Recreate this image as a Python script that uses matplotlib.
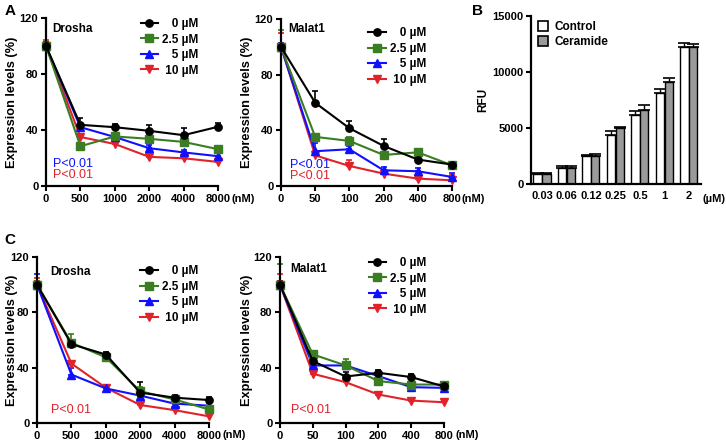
import numpy as np
import matplotlib
matplotlib.use("Agg")
import matplotlib.pyplot as plt
from matplotlib.patches import Patch

plt.rcParams['font.family'] = ['Liberation Sans', 'DejaVu Sans']
plt.rcParams['font.weight'] = 'bold'
plt.rcParams['axes.labelweight'] = 'bold'

# ------------------------------------------------------------
# Data
# ------------------------------------------------------------
doses = ['0 µM', '2.5 µM', '5 µM', '10 µM']
# padded with figure/punctuation spaces so legend text looks right-aligned
dose_labels = ['\u2007\u20080 µM', '2.5 µM', '\u2007\u20085 µM', '\u200810 µM']

drosha_x = ['0', '500', '1000', '2000', '4000', '8000']
malat_x = ['0', '50', '100', '200', '400', '800']

# panel A, Drosha
a_drosha = [
    [100, 43.7, 42, 39.4, 36.3, 42.3],
    [100, 28.4, 35.4, 33.7, 31.5, 26.3],
    [100, 42, 35, 27, 24, 21.3],
    [100, 35, 30, 20.8, 19.8, 17.2],
]
a_drosha_err = [
    [3, 5, 2, 4, 5, 3],
    [2, 2, 2, 3, 3, 2],
    [2, 2, 2, 2, 2, 2],
    [4, 2, 2, 2, 2, 2],
]
# panel A, Malat1
a_malat = [
    [100, 59.8, 41.5, 28.8, 19, 15.4],
    [100, 35.3, 32.4, 22.3, 24.2, 14.9],
    [100, 25, 26.4, 11.3, 10.6, 6.5],
    [100, 22, 14.4, 8.9, 5.3, 4.1],
]
a_malat_err = [
    [3, 8.5, 5, 5, 2, 2],
    [12, 2, 3, 2, 2, 2],
    [3, 6, 2, 2, 2, 3],
    [10, 3, 4, 2, 3, 4],
]
# panel C, Drosha
c_drosha = [
    [100, 57, 49.5, 22, 18.3, 16.6],
    [100, 58, 47.5, 23, 17, 9.8],
    [100, 35, 25, 19.8, 14, 12.5],
    [100, 43, 25.5, 13, 9.3, 4.8],
]
c_drosha_err = [
    [3, 2, 2, 8, 2, 2],
    [3, 6, 2, 3, 2, 2],
    [8, 5, 2, 2, 2, 2],
    [5, 2, 2, 2, 2, 2],
]
# panel C, Malat1
c_malat = [
    [100, 44.8, 33.6, 36.3, 33.2, 26.4],
    [100, 49.6, 41.6, 30.3, 27.8, 27.8],
    [100, 41.6, 41.6, 33.9, 25.9, 25.4],
    [100, 35.6, 29.5, 20.6, 16.2, 15],
]
c_malat_err = [
    [3, 2, 3, 2, 2, 2],
    [15, 2, 5, 2, 2, 2],
    [2, 2, 2, 2, 2, 2],
    [8, 2, 2, 2, 2, 2],
]

# panel B
rfu_x = ['0.03', '0.06', '0.12', '0.25', '0.5', '1', '2']
control = [920, 1400, 2460, 4400, 6120, 8110, 12200]
control_err = [60, 170, 150, 350, 360, 390, 420]
ceramide = [920, 1430, 2520, 4960, 6620, 9090, 12200]
ceramide_err = [60, 150, 180, 150, 420, 360, 330]

colors = ['black', '#3b7d23', '#1010ff', '#e0232b']
markers = ['o', 's', '^', 'v']

W, H = 726, 445


def px_box(l, t, r, b):
    return [l / W, 1 - b / H, (r - l) / W, (b - t) / H]


def style_axes(ax):
    for s in ('top', 'right'):
        ax.spines[s].set_visible(False)
    for s in ('left', 'bottom'):
        ax.spines[s].set_linewidth(1.6)
    ax.tick_params(width=1.5, length=3.5, labelsize=8, pad=2)


def line_panel(box, title, xlabels, values, errs, leg_anchor, title_pos,
               pvals, ylab_x, nm_off):
    ax = fig.add_axes(px_box(*box))
    x = np.arange(len(xlabels))
    for i in range(len(doses)):
        y = np.array(values[i])
        e = np.array(errs[i])
        eb = ax.errorbar(x, y, yerr=[np.zeros_like(e), e], fmt='none',
                         ecolor=colors[i], elinewidth=1.2, capsize=2.5,
                         capthick=1.2)
        for art in eb.lines[1] + eb.lines[2]:
            art.set_clip_on(False)
        ax.plot(x, y, color=colors[i], marker=markers[i], lw=1.5, ms=5.3,
                label=dose_labels[i], clip_on=False, zorder=3 + (3 - i) * 0.1)
    ax.set_xlim(0, len(xlabels) - 1)
    ax.set_ylim(0, 120)
    ax.set_yticks([0, 40, 80, 120])
    ax.set_xticks(x)
    ax.set_xticklabels(xlabels)
    style_axes(ax)
    ax.set_ylabel('Expression levels (%)', fontsize=9.2)
    ax.yaxis.set_label_coords(ylab_x, 0.5)
    ax.text(title_pos[0], title_pos[1], title, transform=ax.transAxes,
            fontsize=8.5, fontweight='bold', va='center')
    ax.annotate('(nM)', xy=(1, 0), xycoords='axes fraction',
                xytext=(nm_off, -9), textcoords='offset points',
                fontsize=8, fontweight='bold', va='center', ha='left')
    for txt, c, yy in pvals:
        ax.text(title_pos[0] + 0.005, yy, txt, transform=ax.transAxes,
                color=c, fontsize=9, fontweight='normal', va='center')
    ax.legend(loc='upper left', bbox_to_anchor=leg_anchor, frameon=False,
              fontsize=8.5, handlelength=1.5, handletextpad=0.35,
              labelspacing=0.3, borderpad=0, borderaxespad=0)
    return ax


fig = plt.figure(figsize=(W / 100, H / 100), dpi=100)

line_panel((46, 18, 218, 186), 'Drosha', drosha_x, a_drosha, a_drosha_err,
           (0.55, 1.0), (0.035, 0.935),
           [('P<0.01', colors[2], 0.13), ('P<0.01', colors[3], 0.065)],
           -0.165, 10)
line_panel((281, 19, 452, 186), 'Malat1', malat_x, a_malat, a_malat_err,
           (0.51, 0.95), (0.045, 0.94),
           [('P<0.01', colors[2], 0.126), ('P<0.01', colors[3], 0.06)],
           -0.165, 7)
line_panel((37, 257, 209, 423), 'Drosha', drosha_x, c_drosha, c_drosha_err,
           (0.60, 0.95), (0.075, 0.91),
           [('P<0.01', colors[3], 0.078)],
           -0.11, 10)
line_panel((280, 257, 444, 423), 'Malat1', malat_x, c_malat, c_malat_err,
           (0.54, 1.0), (0.06, 0.925),
           [('P<0.01', colors[3], 0.08)],
           -0.165, 8.5)

# panel B
axb = fig.add_axes(px_box(531, 16, 701, 184))
xb = np.arange(len(rfu_x))
bw = 0.34
axb.bar(xb - 0.18, control, bw, color='white', edgecolor='black', lw=1.0)
axb.bar(xb + 0.18, ceramide, bw, color='#9a9a9a', edgecolor='black', lw=1.0)
axb.errorbar(xb - 0.18, control, yerr=[np.zeros(len(control)), control_err],
             fmt='none', ecolor='black', elinewidth=1.0, capsize=4, capthick=1.2)
axb.errorbar(xb + 0.18, ceramide, yerr=[np.zeros(len(ceramide)), ceramide_err],
             fmt='none', ecolor='black', elinewidth=1.0, capsize=4, capthick=1.2)
axb.set_xlim(-0.45, len(rfu_x) - 0.5)
axb.set_ylim(0, 15000)
axb.set_yticks([0, 5000, 10000, 15000])
axb.set_xticks(xb)
axb.set_xticklabels(rfu_x)
style_axes(axb)
axb.tick_params(axis='x', length=0, pad=5)
axb.set_ylabel('RFU', fontsize=8.5)
axb.yaxis.set_label_coords(-0.245, 0.5)
axb.annotate('(µM)', xy=(1, 0), xycoords='axes fraction',
             xytext=(1, -11), textcoords='offset points',
             fontsize=8, fontweight='bold', va='center')
axb.legend(handles=[Patch(facecolor='white', edgecolor='black', lw=1.2),
                    Patch(facecolor='#9a9a9a', edgecolor='black', lw=1.2)],
           labels=['Control', 'Ceramide'], loc='upper left',
           bbox_to_anchor=(0.04, 0.97), frameon=False, fontsize=8.5,
           handlelength=0.9, handleheight=0.9, handletextpad=0.5,
           labelspacing=0.25, borderpad=0, borderaxespad=0)

fig.text(5 / W, 1 - 11 / H, 'A', fontsize=11, fontweight='bold', va='center')
fig.text(472 / W, 1 - 11 / H, 'B', fontsize=11, fontweight='bold', va='center')
fig.text(4 / W, 1 - 240 / H, 'C', fontsize=11, fontweight='bold', va='center')

fig.savefig('out.png', dpi=100)
